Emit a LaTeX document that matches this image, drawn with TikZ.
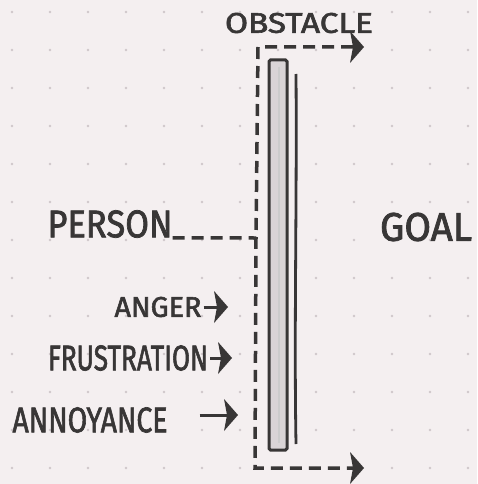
\documentclass[tikz,border=0pt]{standalone}
\usepackage{fontspec}
\setmainfont{Fira Sans}
\newfontfamily\handfont{Fira Sans}[FakeBold=2]
\usetikzlibrary{arrows.meta}
\definecolor{paper}{HTML}{F4EFF0}
\definecolor{ink}{HTML}{383636}
\definecolor{dotc}{HTML}{CFC7CA}
\definecolor{barfill}{HTML}{D9D4D6}
\begin{document}
\begin{tikzpicture}[x=1pt,y=-1pt,
 lbl/.style={inner sep=0pt,text=ink,font=\handfont},
 dline/.style={draw=ink,line width=3.5pt,dash pattern=on 12pt off 7pt},
 harrow/.style={draw=ink,line width=3pt},
 headshape/.pic={\fill[ink] (1pt,0pt) -- (-13pt,-16pt) -- (-10pt,0pt) -- (-13pt,16pt) -- cycle;},
]
\fill[paper] (0,0) rectangle (477,484);
\useasboundingbox (0,0) rectangle (477,484);
\foreach \i in {0,...,12} \foreach \j in {0,...,12} \fill[dotc] (12+38*\i,12+38*\j) circle (1.4pt);
% labels
\node[lbl] (obst) at (299,23) {\resizebox{148pt}{20pt}{OBSTACLE}};
\node[lbl] (person) at (110,224) {\resizebox{125pt}{27pt}{PERSON}};
\node[lbl] (goal) at (426,227) {\resizebox{92pt}{28pt}{GOAL}};
\node[lbl] (anger) at (158,307) {\resizebox{87pt}{20pt}{ANGER}};
\node[lbl] (frus) at (128,358) {\resizebox{160pt}{25pt}{FRUSTRATION}};
\node[lbl] (annoy) at (90,420) {\resizebox{155pt}{25pt}{ANNOYANCE}};
% dashed frame
\coordinate (topend) at (363,47);
\coordinate (tl) at (258,47);
\coordinate (pj) at (256,238);
\coordinate (bl) at (255,468);
\coordinate (botend) at (363,468);
\draw[dline,shorten <=10pt,shorten >=6pt] (topend) -- (tl) -- (pj) -- (bl) -- (botend);
\pic at (topend) {headshape};
\pic at (botend) {headshape};
\draw[dline] (person.south east) -- (pj);
% bar
\draw[ink,line width=3pt,fill=barfill,rounded corners=1.5pt] (269,60) rectangle (287,450);
\draw[gray!40,line width=2pt] (279,67) -- (279,443);
\draw[ink,line width=2.8pt] (296,74) .. controls (297,200) and (294,330) .. (296,444);
% emotion arrows
\coordinate (angerTip) at (227,307);
\coordinate (frusTip) at (231,358);
\coordinate (annoyTip) at (237,415);
\draw[harrow,shorten <=2pt,shorten >=10pt] (anger.east) -- (angerTip);
\pic at (angerTip) {headshape};
\draw[harrow,shorten <=2pt,shorten >=10pt] (frus.east) -- (frusTip);
\pic at (frusTip) {headshape};
\draw[harrow,shorten <=32pt,shorten >=10pt] ([yshift=5pt]annoy.east) -- (annoyTip);
\pic at (annoyTip) {headshape};
\end{tikzpicture}
\end{document}
